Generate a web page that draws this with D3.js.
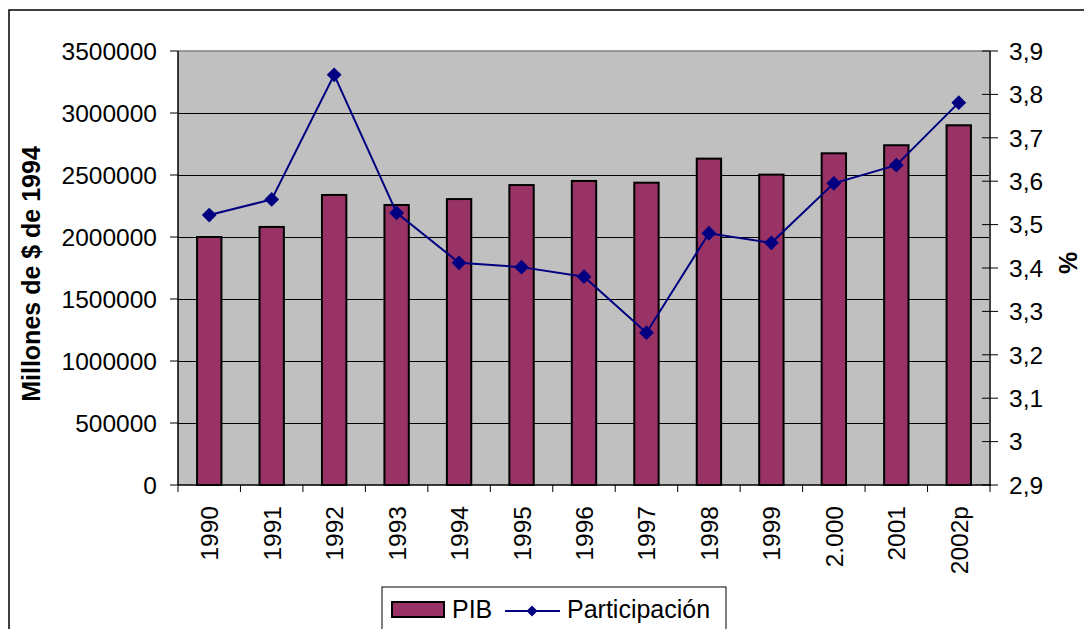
<!DOCTYPE html>
<html><head><meta charset="utf-8">
<script src="https://cdn.jsdelivr.net/npm/d3@7"></script>
<style>body{margin:0;background:#fff;} svg{display:block;} text{font-family:"Liberation Sans",Arial,sans-serif;fill:#000;}</style>
</head><body>
<svg id="c" width="1084" height="629"></svg>
<script>
const years = ["1990","1991","1992","1993","1994","1995","1996","1997","1998","1999","2.000","2001","2002p"];
const pib = [2000000,2081000,2339000,2258000,2306000,2419000,2452000,2438000,2632000,2503000,2675000,2740000,2901000];
const participacion = [3.522,3.558,3.845,3.527,3.412,3.402,3.380,3.251,3.480,3.458,3.595,3.637,3.781];
const leftTicks = [0,500000,1000000,1500000,2000000,2500000,3000000,3500000];
const rightTicks = [2.9,3.0,3.1,3.2,3.3,3.4,3.5,3.6,3.7,3.8,3.9];
const rightTickLabels = ["2,9","3","3,1","3,2","3,3","3,4","3,5","3,6","3,7","3,8","3,9"];

const svg = d3.select("#c");
const L = 178, R = 990, T = 51, B = 485;
const x = d3.scaleBand().domain(years).range([L, R]).padding(0);
const yL = d3.scaleLinear().domain([0, 3500000]).range([B, T]);
const yR = d3.scaleLinear().domain([2.9, 3.9]).range([B, T]);

// outer border
svg.append("rect").attr("x", 9).attr("y", 10).attr("width", 1100).attr("height", 650)
  .attr("fill", "#fff").attr("stroke", "#000").attr("stroke-width", 1.5);

// plot area
svg.append("rect").attr("x", L).attr("y", T).attr("width", R - L).attr("height", B - T).attr("fill", "#C0C0C0");
svg.append("line").attr("x1", L).attr("x2", R).attr("y1", T).attr("y2", T).attr("stroke", "#808080").attr("stroke-width", 1.5);

// gridlines
svg.append("g").selectAll("line").data(leftTicks.filter(d => d > 0 && d < 3500000)).join("line")
  .attr("x1", L).attr("x2", R).attr("y1", d => Math.round(yL(d)) + 0.5).attr("y2", d => Math.round(yL(d)) + 0.5)
  .attr("stroke", "#000").attr("stroke-width", 1);

// bars
const bw = x.bandwidth() * 0.39;
svg.append("g").selectAll("rect").data(years).join("rect")
  .attr("x", (d) => x(d) + x.bandwidth() / 2 - bw / 2)
  .attr("width", bw)
  .attr("y", (d, i) => yL(pib[i]))
  .attr("height", (d, i) => B - yL(pib[i]))
  .attr("fill", "#993366").attr("stroke", "#000").attr("stroke-width", 2);

// axes lines
svg.append("line").attr("x1", L).attr("x2", L).attr("y1", T).attr("y2", B).attr("stroke", "#000").attr("stroke-width", 1.5);
svg.append("line").attr("x1", R).attr("x2", R).attr("y1", T).attr("y2", B + 1).attr("stroke", "#404040").attr("stroke-width", 2);
svg.append("line").attr("x1", L).attr("x2", R).attr("y1", B).attr("y2", B).attr("stroke", "#000").attr("stroke-width", 1.5);

// left ticks & labels
const gl = svg.append("g");
gl.selectAll("line").data(leftTicks).join("line")
  .attr("x1", 170).attr("x2", L).attr("y1", d => yL(d)).attr("y2", d => yL(d)).attr("stroke", "#000");
gl.selectAll("text").data(leftTicks).join("text")
  .attr("x", 157).attr("y", d => yL(d)).attr("dy", "0.36em").attr("text-anchor", "end")
  .style("font-size", "24.5px").text(d => String(d));

// right ticks & labels
const gr = svg.append("g");
gr.selectAll("line").data(rightTicks).join("line")
  .attr("x1", 982).attr("x2", 998).attr("y1", d => yR(d)).attr("y2", d => yR(d)).attr("stroke", "#000");
gr.selectAll("text").data(rightTicks).join("text")
  .attr("x", 1009).attr("y", d => yR(d)).attr("dy", "0.36em").attr("text-anchor", "start")
  .style("font-size", "24.5px").text((d, i) => rightTickLabels[i]);

// x ticks
const bounds = years.map(d => x(d)).concat([R]);
svg.append("g").selectAll("line").data(bounds).join("line")
  .attr("x1", d => d).attr("x2", d => d).attr("y1", B).attr("y2", B + 7).attr("stroke", "#000");
// x labels
svg.append("g").selectAll("text").data(years).join("text")
  .attr("transform", d => `translate(${x(d) + x.bandwidth() / 2 + 9},506) rotate(-90)`)
  .attr("text-anchor", "end").style("font-size", "24.5px").text(d => d);

// line series
const cx = d => x(d) + x.bandwidth() / 2;
const line = d3.line().x((d, i) => cx(years[i])).y(d => yR(d));
svg.append("path").datum(participacion).attr("d", line).attr("fill", "none")
  .attr("stroke", "#000080").attr("stroke-width", 2);
const diamond = d3.symbol().type(d3.symbolSquare).size(110);
svg.append("g").selectAll("path").data(participacion).join("path")
  .attr("d", diamond)
  .attr("transform", (d, i) => `translate(${cx(years[i])},${yR(d)}) rotate(45)`)
  .attr("fill", "#000080");

// axis titles
svg.append("text").attr("transform", "translate(40,274) rotate(-90)").attr("text-anchor", "middle")
  .style("font-size", "25px").style("font-weight", "bold").text("Millones de $ de 1994");
svg.append("text").attr("transform", "translate(1077,263) rotate(-90)").attr("text-anchor", "middle")
  .style("font-size", "25px").style("font-weight", "bold").text("%");

// legend
const lg = svg.append("g");
lg.append("rect").attr("x", 382).attr("y", 587).attr("width", 344).attr("height", 60)
  .attr("fill", "#fff").attr("stroke", "#000").attr("stroke-width", 1);
lg.append("rect").attr("x", 392).attr("y", 602).attr("width", 52).attr("height", 15)
  .attr("fill", "#993366").attr("stroke", "#000").attr("stroke-width", 2);
lg.append("text").attr("x", 452).attr("y", 618).style("font-size", "25px").text("PIB");
lg.append("line").attr("x1", 505).attr("x2", 560).attr("y1", 611).attr("y2", 611)
  .attr("stroke", "#000080").attr("stroke-width", 2);
lg.append("path").attr("d", d3.symbol().type(d3.symbolSquare).size(60)())
  .attr("transform", "translate(532,611) rotate(45)").attr("fill", "#000080");
lg.append("text").attr("x", 567).attr("y", 618).style("font-size", "25px").text("Participación");
</script>
</body></html>
